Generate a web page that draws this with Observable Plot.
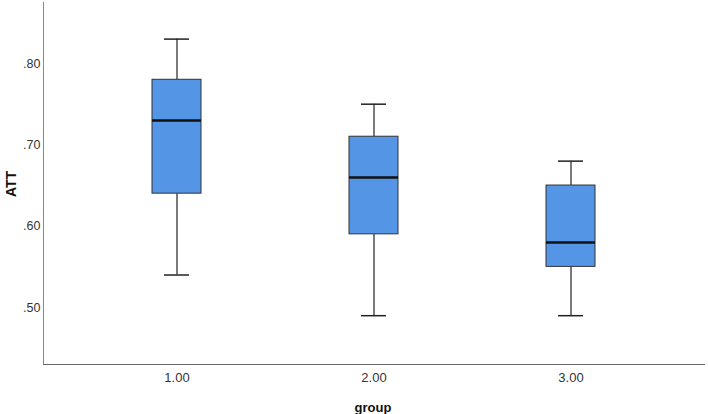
<!DOCTYPE html>
<html>
<head>
<meta charset="utf-8">
<script src="https://cdn.jsdelivr.net/npm/d3@7"></script>
<script src="https://cdn.jsdelivr.net/npm/@observablehq/plot@0.6"></script>
<style>
  html, body { margin: 0; padding: 0; background: #fff; }
  #chart { width: 708px; height: 414px; }
</style>
</head>
<body>
<div id="chart"></div>
<script>
const groups = ["1.00", "2.00", "3.00"];
const whiskerLow = [0.54, 0.49, 0.49];
const q1 = [0.64, 0.59, 0.55];
const median = [0.73, 0.66, 0.58];
const q3 = [0.78, 0.71, 0.65];
const whiskerHigh = [0.83, 0.75, 0.68];
const yTicks = [0.5, 0.6, 0.7, 0.8];

const stats = groups.map((g, i) => ({
  group: g, lo: whiskerLow[i], q1: q1[i], med: median[i], q3: q3[i], hi: whiskerHigh[i]
}));

const font = "'Liberation Sans', Arial, sans-serif";

const chart = Plot.plot({
  width: 708,
  height: 414,
  marginLeft: 43,
  marginRight: 4,
  marginTop: 2,
  marginBottom: 50,
  style: { fontFamily: font, fontSize: "12px", color: "#222", background: "#fff" },
  x: { type: "band", domain: groups, paddingInner: 0.75, paddingOuter: 0.545, label: null },
  y: { domain: [0.43, 0.875], label: null },
  marks: [
    // whiskers
    Plot.ruleX(stats, { x: "group", y1: "lo", y2: "q1", stroke: "#222", strokeWidth: 1.2 }),
    Plot.ruleX(stats, { x: "group", y1: "q3", y2: "hi", stroke: "#222", strokeWidth: 1.2 }),
    Plot.tickY(stats, { x: "group", y: "lo", stroke: "#222", strokeWidth: 1.5, insetLeft: 12, insetRight: 12 }),
    Plot.tickY(stats, { x: "group", y: "hi", stroke: "#222", strokeWidth: 1.5, insetLeft: 12, insetRight: 12 }),
    // box
    Plot.barY(stats, { x: "group", y1: "q1", y2: "q3", fill: "#5595e6", stroke: "#333", strokeWidth: 1 }),
    // median
    Plot.tickY(stats, { x: "group", y: "med", stroke: "#111", strokeWidth: 2.5 }),
    // axes
    Plot.axisY({ ticks: yTicks, tickFormat: d => d3.format(".2f")(d).replace(/^0/, ""), tickSize: 0, tickPadding: 3, fill: "#333", fontSize: 12.5 }),
    Plot.axisX({ tickSize: 0, tickPadding: 8, fill: "#333", fontSize: 13 }),
    Plot.frame({ anchor: "left", stroke: "#888" }),
    Plot.frame({ anchor: "bottom", stroke: "#666" })
  ]
});

const svg = d3.select(chart);
// axis titles
svg.append("text")
  .attr("transform", "translate(16,184) rotate(-90)")
  .attr("text-anchor", "middle")
  .attr("font-family", font)
  .attr("font-weight", "bold")
  .attr("font-size", 14)
  .attr("fill", "#111")
  .text("ATT");
svg.append("text")
  .attr("x", 373)
  .attr("y", 412)
  .attr("text-anchor", "middle")
  .attr("font-family", font)
  .attr("font-weight", "bold")
  .attr("font-size", 13)
  .attr("fill", "#111")
  .text("group");

document.getElementById("chart").appendChild(chart);
</script>
</body>
</html>
